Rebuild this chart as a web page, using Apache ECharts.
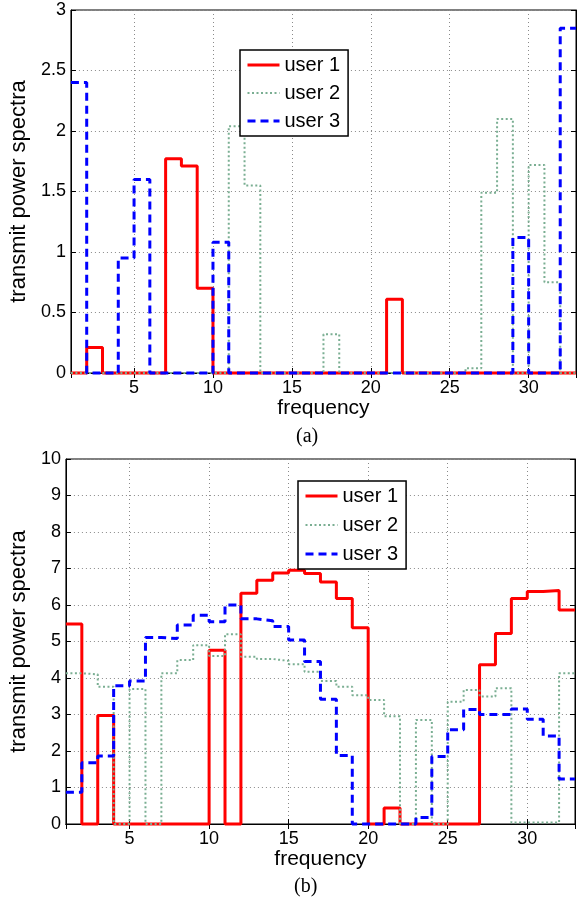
<!DOCTYPE html>
<html style="height: 100%">
<head>
<meta charset="utf-8">
<script src="https://cdn.jsdelivr.net/npm/echarts@6/dist/echarts.min.js"></script>
</head>
<body style="height: 100%; margin: 0; background: #fff;">
<div id="container" style="width: 577px; height: 898px"></div>
<script type="text/javascript">

var users = ['user 1', 'user 2', 'user 3'];
var colors = ['#ff0000', '#7aae92', '#0000ff'];

// value of bin k is held on [k, k+1], k = 1..32
// panel (a)
var user1A = [0, 0.21, 0, 0, 0, 0, 1.77, 1.71, 0.70, 0, 0, 0, 0, 0, 0, 0,
              0, 0, 0, 0, 0.61, 0, 0, 0, 0, 0, 0, 0, 0, 0, 0, 0];
var user2A = [0, 0, 0, 0, 0, 0, 0, 0, 0, 0, 2.04, 1.55, 0, 0, 0, 0,
              0.32, 0, 0, 0, 0, 0, 0, 0, 0, 0.04, 1.49, 2.10, 0, 1.72, 0.75, 0];
var user3A = [2.40, 0, 0, 0.95, 1.60, 0, 0, 0, 0, 1.08, 0, 0, 0, 0, 0, 0,
              0, 0, 0, 0, 0, 0, 0, 0, 0, 0, 0, 0, 1.12, 0, 0, 2.85];
// panel (b)
var user1B = [5.48, 0, 2.97, 0, 0, 0, 0, 0, 0, 4.76, 0, 6.32, 6.68, 6.88, 6.95, 6.86,
              6.63, 6.18, 5.38, 0, 0.44, 0, 0, 0, 0, 0, 4.36, 5.22, 6.18, 6.37, 6.40, 5.86];
var user2B = [4.13, 4.10, 3.76, 0, 3.70, 0, 4.13, 4.49, 4.90, 4.60, 5.20, 4.58, 4.52, 4.47, 4.38, 4.17,
              3.92, 3.76, 3.53, 3.40, 2.95, 0, 2.85, 0, 3.35, 3.67, 3.49, 3.72, 0.04, 0.04, 0.04, 4.13];
var user3B = [0.87, 1.68, 1.86, 3.79, 3.92, 5.11, 5.08, 5.45, 5.72, 5.54, 6.00, 5.62, 5.57, 5.41, 5.04, 4.45,
              3.42, 1.88, 0, 0, 0, 0, 0.18, 1.85, 2.58, 3.14, 3.00, 3.00, 3.15, 2.87, 2.41, 1.23];

var fMin = 1, fMax = 33;
var font = 'Liberation Sans, Arial, sans-serif';

function stairs(vals) {
        var pts = vals.map(function (v, i) { return [i + 1, v]; });
        pts.push([vals.length + 1, vals[vals.length - 1]]);
        return pts;
}

var lineStyles = [
        { width: 3, type: 'solid' },
        { width: 2, type: [2, 2.5] },
        { width: 3, type: [8, 5] }
];

function makeSeries(sets, xi, yi) {
        return sets.map(function (vals, u) {
                return {
                        name: users[u],
                        type: 'line',
                        step: 'end',
                        xAxisIndex: xi,
                        yAxisIndex: yi,
                        symbol: 'none',
                        clip: false,
                        data: stairs(vals),
                        lineStyle: { color: colors[u], width: lineStyles[u].width, type: lineStyles[u].type },
                        itemStyle: { color: colors[u] },
                        animation: false
                };
        });
}

function xAxisMain(gi) {
        return {
                type: 'value', gridIndex: gi, min: fMin, max: fMax,
                minInterval: 5, maxInterval: 5,
                name: 'frequency', nameLocation: 'middle', nameGap: 24,
                nameTextStyle: { fontSize: 21, color: '#000', fontFamily: font },
                axisLine: { lineStyle: { color: '#000', width: 1 } },
                axisTick: { inside: true, length: 5, lineStyle: { color: '#000' } },
                axisLabel: { fontSize: 18, color: '#000', margin: 6, fontFamily: font,
                        showMinLabel: false, showMaxLabel: false },
                splitLine: { show: true, lineStyle: { color: '#8a8a8a', type: [1, 3] } }
        };
}
function xAxisTop(gi) {
        return {
                type: 'value', gridIndex: gi, position: 'top', min: fMin, max: fMax,
                minInterval: 5, maxInterval: 5,
                axisLine: { lineStyle: { color: '#000' } },
                axisTick: { inside: true, length: 5, lineStyle: { color: '#000' } },
                axisLabel: { show: false }, splitLine: { show: false }
        };
}
function yAxisMain(gi, max, step, gap) {
        return {
                type: 'value', gridIndex: gi, min: 0, max: max, interval: step,
                name: 'transmit power spectra', nameLocation: 'middle', nameGap: gap,
                nameTextStyle: { fontSize: 22, color: '#000', fontFamily: font },
                axisLine: { show: true, lineStyle: { color: '#000', width: 1 } },
                axisTick: { show: true, inside: true, length: 5, lineStyle: { color: '#000' } },
                axisLabel: { fontSize: 18, color: '#000', margin: 5, fontFamily: font },
                splitLine: { show: true, lineStyle: { color: '#8a8a8a', type: [1, 3] } }
        };
}
function yAxisRight(gi, max, step) {
        return {
                type: 'value', gridIndex: gi, position: 'right', min: 0, max: max, interval: step,
                axisLine: { show: true, lineStyle: { color: '#000' } },
                axisTick: { show: true, inside: true, length: 5, lineStyle: { color: '#000' } },
                axisLabel: { show: false }, splitLine: { show: false }
        };
}

function legendAt(left, top, gap) {
        return {
                data: users.map(function (n, u) {
                        return { name: n, lineStyle: { width: lineStyles[u].width, type: lineStyles[u].type, color: colors[u] } };
                }),
                orient: 'vertical', left: left, top: top,
                itemWidth: 32, itemHeight: 14, itemGap: gap,
                padding: [5, 8, 5, 6],
                borderColor: '#000', borderWidth: 1.5, backgroundColor: '#fff',
                itemStyle: { color: 'rgba(0,0,0,0)', borderWidth: 0, opacity: 0 },
                textStyle: { fontSize: 20, lineHeight: 20, color: '#000', fontFamily: font },
                selectedMode: false
        };
}

var dom = document.getElementById('container');
var myChart = echarts.init(dom);

var option = {
        backgroundColor: '#fff',
        animation: false,
        title: [
                { text: '(a)', left: 296, top: 427, padding: 0,
                  textStyle: { fontFamily: 'Liberation Serif, serif', fontSize: 20, fontWeight: 'normal', color: '#000' } },
                { text: '(b)', left: 294, top: 877, padding: 0,
                  textStyle: { fontFamily: 'Liberation Serif, serif', fontSize: 20, fontWeight: 'normal', color: '#000' } }
        ],
        legend: [legendAt(240, 50, 8), legendAt(298, 481, 9)],
        grid: [
                { left: 67, top: 10, width: 509, height: 363, show: true, borderColor: '#000', borderWidth: 1, backgroundColor: '#fff' },
                { left: 63, top: 459, width: 512, height: 365, show: true, borderColor: '#000', borderWidth: 1, backgroundColor: '#fff' }
        ],
        xAxis: [xAxisMain(0), xAxisTop(0), xAxisMain(1), xAxisTop(1)],
        yAxis: [yAxisMain(0, 3, 0.5, 29), yAxisRight(0, 3, 0.5), yAxisMain(1, 10, 1, 26), yAxisRight(1, 10, 1)],
        series: makeSeries([user1A, user2A, user3A], 0, 0)
                .concat(makeSeries([user1B, user2B, user3B], 2, 2))
};

myChart.setOption(option, true);

</script>
</body>
</html>
